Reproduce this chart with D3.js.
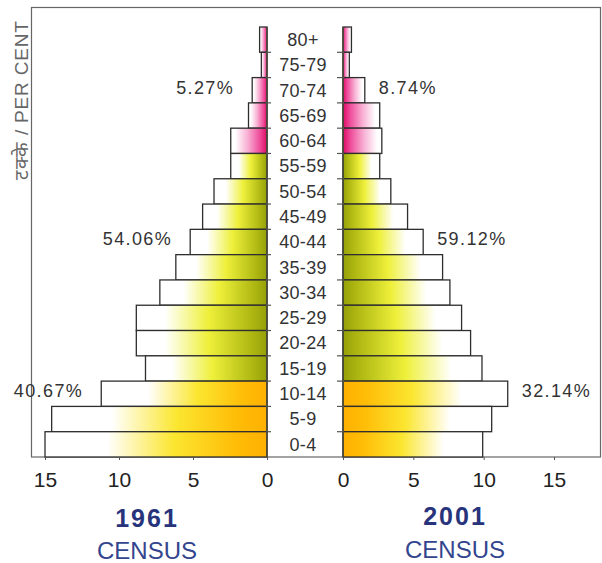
<!DOCTYPE html>
<html>
<head>
<meta charset="utf-8">
<script src="https://cdn.jsdelivr.net/npm/d3@7"></script>
<style>
  html, body { margin: 0; padding: 0; background: #ffffff; }
  svg { display: block; font-family: "Liberation Sans", Arial, sans-serif; }
</style>
</head>
<body>
<svg id="chart" width="602" height="563"></svg>
<script>
// ---------- data ----------
const ages = ["80+","75-79","70-74","65-69","60-64","55-59","50-54","45-49","40-44",
              "35-39","30-34","25-29","20-24","15-19","10-14","5-9","0-4"];
const ageGroup = ["old","old","old","old","old","work","work","work","work",
                  "work","work","work","work","work","young","young","young"];
const pop1961 = [0.5, 0.38, 1.0, 1.25, 2.45, 2.45, 3.58, 4.35, 5.19,
                 6.16, 7.24, 8.83, 8.83, 8.21, 11.2, 14.55, 15.0];
const pop2001 = [0.6, 0.45, 1.55, 2.61, 2.76, 2.61, 3.4, 4.59, 5.7,
                 7.08, 7.6, 8.43, 9.07, 9.88, 11.71, 10.57, 9.93];
const shareGroups = ["60+", "15-59", "0-14"];
const shareAnchor = ["70-74", "40-44", "10-14"];
const share1961 = [5.27, 54.06, 40.67];
const share2001 = [8.74, 59.12, 32.14];
const axisTicks = [0, 5, 10, 15];
const years = ["1961", "2001"];
const yTitle = "टक्के / PER CENT";

// ---------- layout ----------
const svg = d3.select("#chart");
const xL = d3.scaleLinear().domain([0, 15]).range([267, 45]);
const xR = d3.scaleLinear().domain([0, 15]).range([343, 554]);
const y = d3.scaleBand().domain(ages).range([27, 457]).padding(0);

// gradients
const defs = svg.append("defs");
const gradStops = {
  young: [[0, "#ffb000"], [0.15, "#ffbe08"], [0.42, "#fbe630"], [0.72, "#ffffff"]],
  work:  [[0, "#95a008"], [0.12, "#afb812"], [0.45, "#eef03a"], [0.78, "#ffffff"]],
  old:   [[0, "#dc0c64"], [0.18, "#ee4898"], [0.55, "#f8b4d6"], [0.88, "#ffffff"]]
};
["L", "R"].forEach(side => {
  Object.keys(gradStops).forEach(g => {
    const lg = defs.append("linearGradient")
      .attr("id", `grad-${g}-${side}`)
      .attr("x1", side === "L" ? 1 : 0).attr("x2", side === "L" ? 0 : 1)
      .attr("y1", 0).attr("y2", 0);
    gradStops[g].forEach(([o, c]) => lg.append("stop").attr("offset", o).attr("stop-color", c));
  });
});

// frame
svg.append("rect")
  .attr("x", 31.5).attr("y", 7.5).attr("width", 569).attr("height", 449.5)
  .attr("fill", "none").attr("stroke", "#666").attr("stroke-width", 1.2);

// bars
const rows = ages.map((a, i) => ({age: a, g: ageGroup[i], v1: pop1961[i], v2: pop2001[i]}));

svg.append("g").selectAll("rect").data(rows).join("rect")
  .attr("x", d => xL(d.v1))
  .attr("y", d => y(d.age))
  .attr("width", d => xL(0) - xL(d.v1))
  .attr("height", y.bandwidth())
  .attr("fill", d => `url(#grad-${d.g}-L)`)
  .attr("stroke", "#2e2e2e").attr("stroke-width", 1.3);

svg.append("g").selectAll("rect").data(rows).join("rect")
  .attr("x", xR(0))
  .attr("y", d => y(d.age))
  .attr("width", d => xR(d.v2) - xR(0))
  .attr("height", y.bandwidth())
  .attr("fill", d => `url(#grad-${d.g}-R)`)
  .attr("stroke", "#2e2e2e").attr("stroke-width", 1.3);

// zero axes with ticks at band boundaries
const bounds = ages.map(a => y(a)).concat([y.range()[1]]);
[[xL(0), 1, 4], [xR(0), -1, 6]].forEach(([x0, dir, len]) => {
  svg.append("line").attr("x1", x0).attr("x2", x0)
    .attr("y1", y.range()[0]).attr("y2", y.range()[1])
    .attr("stroke", "#4a4a3a").attr("stroke-width", 1.6);
  svg.append("g").selectAll("line").data(bounds.slice(1, -1)).join("line")
    .attr("x1", x0 - dir * 1).attr("x2", x0 + dir * len)
    .attr("y1", d => d).attr("y2", d => d)
    .attr("stroke", "#555").attr("stroke-width", 1.2);
});

// age labels
svg.append("g").selectAll("text").data(ages).join("text")
  .attr("x", 303)
  .attr("y", d => y(d) + y.bandwidth() / 2)
  .attr("dy", "0.35em")
  .attr("text-anchor", "middle")
  .attr("font-size", 18)
  .attr("letter-spacing", 0.3)
  .attr("fill", "#333")
  .text(d => d);

// share annotations
const fmt = d => d.toFixed(2) + "%";
svg.append("g").selectAll("text").data(shareGroups).join("text")
  .attr("x", (d, i) => xL(pop1961[ages.indexOf(shareAnchor[i])]) - 18)
  .attr("y", (d, i) => y(shareAnchor[i]) + y.bandwidth() / 2 - 3)
  .attr("dy", "0.35em")
  .attr("text-anchor", "end")
  .attr("font-size", 18).attr("letter-spacing", 1.4)
  .attr("fill", "#333")
  .text((d, i) => fmt(share1961[i]));

svg.append("g").selectAll("text").data(shareGroups).join("text")
  .attr("x", (d, i) => xR(pop2001[ages.indexOf(shareAnchor[i])]) + 14)
  .attr("y", (d, i) => y(shareAnchor[i]) + y.bandwidth() / 2 - 3)
  .attr("dy", "0.35em")
  .attr("text-anchor", "start")
  .attr("font-size", 18).attr("letter-spacing", 1.4)
  .attr("fill", "#333")
  .text((d, i) => fmt(share2001[i]));

// bottom axes
[xL, xR].forEach(sc => {
  const g = svg.append("g").attr("transform", "translate(0,457)")
    .call(d3.axisBottom(sc).tickValues(axisTicks).tickSize(3).tickPadding(12).tickFormat(d3.format("d")));
  g.select(".domain").remove();
  g.selectAll(".tick line").attr("stroke", "#555");
  g.selectAll(".tick text").attr("font-size", 21).attr("fill", "#222")
    .attr("font-family", "'Liberation Sans', Arial, sans-serif");
});

// census titles
const titleX = [147, 455];
years.forEach((yr, i) => {
  svg.append("text").attr("x", titleX[i]).attr("y", 527 - (i ? 2 : 0))
    .attr("text-anchor", "middle").attr("font-size", 25).attr("font-weight", "bold")
    .attr("letter-spacing", 2).attr("fill", "#27347c").text(yr);
  svg.append("text").attr("x", titleX[i]).attr("y", 559 - (i ? 1 : 0))
    .attr("text-anchor", "middle").attr("font-size", 24)
    .attr("fill", "#33458e").text("CENSUS");
});

// y title
svg.append("text")
  .attr("transform", "translate(28,100) rotate(-90)")
  .attr("text-anchor", "middle")
  .attr("font-size", 19).attr("letter-spacing", 0.8)
  .attr("fill", "#666")
  .text(yTitle);
</script>
</body>
</html>
